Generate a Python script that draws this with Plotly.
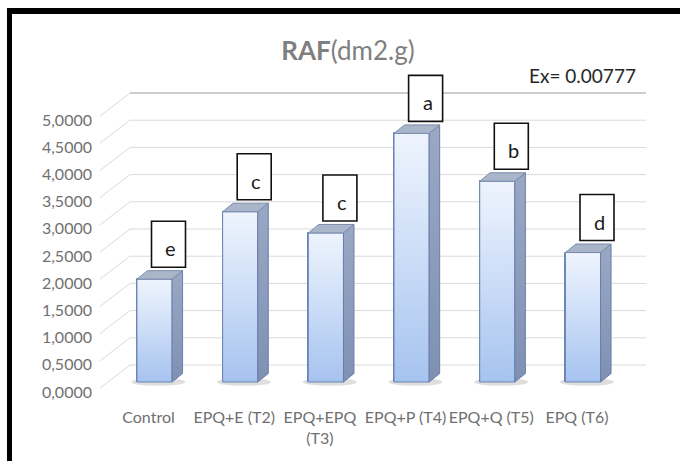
import plotly.graph_objects as go

# ---- data -------------------------------------------------------------
categories = ["Control", "EPQ+E (T2)", "EPQ+EPQ (T3)", "EPQ+P (T4)", "EPQ+Q (T5)", "EPQ (T6)"]
tick_labels = ["Control", "EPQ+E (T2)", "EPQ+EPQ<br>(T3)", "EPQ+P (T4)", "EPQ+Q (T5)", "EPQ (T6)"]
raf_values = [1.89, 3.13, 2.74, 4.57, 3.69, 2.38]
group_letters = ["e", "c", "c", "a", "b", "d"]
y_ticks = [0, 0.5, 1.0, 1.5, 2.0, 2.5, 3.0, 3.5, 4.0, 4.5, 5.0]
ex_text = "Ex= 0.00777"

# ---- page geometry ----------------------------------------------------
W, H = 680, 461
ML, MR, MT, MB = 95, 30, 60, 63
PW, PH = W - ML - MR, H - MT - MB
PX_PER_CAT = 85.7          # horizontal distance between categories
PX_PER_UNIT = 54.4         # vertical pixels per unit of RAF
CAT0_PX = 154.5            # pixel x of the first category
ZERO_PX = 382.0            # pixel y of value 0 on the bar plane

x_lo = (ML - CAT0_PX) / PX_PER_CAT
x_hi = x_lo + PW / PX_PER_CAT
y_lo = (ZERO_PX - (H - MB)) / PX_PER_UNIT
y_hi = y_lo + PH / PX_PER_UNIT

def px_to_paper(px, py):
    return (px - ML) / PW, ((H - MB) - py) / PH

def px_to_cat(px):
    return (px - CAT0_PX) / PX_PER_CAT

# 3-D look (in axis units)
BAR_W = 0.41
DEPTH_X = 10.5 / PX_PER_CAT
DEPTH_Y = 8.5 / PX_PER_UNIT
WALL_FRONT_X = px_to_cat(100)
WALL_BACK_X = px_to_cat(130)
WALL_RIGHT = px_to_cat(646)
BACK_DY = 17.0 / PX_PER_UNIT
FRONT_DY = -6.0 / PX_PER_UNIT

FONT = "Lato"
GRID = "#dadada"

fig = go.Figure()

# bars (front faces)
xs = list(range(len(categories)))
fig.add_trace(go.Bar(
    x=xs, y=raf_values, width=BAR_W,
    marker=dict(color="#c9daf4", line=dict(color="#6a84b3", width=1)),
    hoverinfo="skip", showlegend=False,
))

for i, v in enumerate(raf_values):
    l, r = i - BAR_W / 2, i + BAR_W / 2
    # shaded front face
    fig.add_trace(go.Scatter(
        x=[l, r, r, l, l], y=[0, 0, v, v, 0], mode="lines", fill="toself",
        fillgradient=dict(type="vertical",
                          colorscale=[[0, "#a6c3ef"], [0.55, "#cfdff8"], [1, "#eef4fd"]]),
        line=dict(color="#6a84b3", width=1), hoverinfo="skip", showlegend=False,
    ))
    # side face
    fig.add_trace(go.Scatter(
        x=[r, r + DEPTH_X, r + DEPTH_X, r, r],
        y=[0, DEPTH_Y, v + DEPTH_Y, v, 0], mode="lines", fill="toself",
        fillgradient=dict(type="vertical",
                          colorscale=[[0, "#7f90b4"], [1, "#9aa8c4"]]),
        line=dict(color="#6a7fa8", width=1), hoverinfo="skip", showlegend=False,
    ))
    # top face
    fig.add_trace(go.Scatter(
        x=[l, r, r + DEPTH_X, l + DEPTH_X, l],
        y=[v, v, v + DEPTH_Y, v + DEPTH_Y, v], mode="lines", fill="toself",
        fillcolor="#a9b5c9", line=dict(color="#7a8cae", width=1),
        hoverinfo="skip", showlegend=False,
    ))

shapes = []
# back wall and side wall grid
for t in y_ticks:
    top = t == y_ticks[-1]
    shapes.append(dict(type="line", xref="x", yref="y", layer="below",
                       x0=WALL_BACK_X, x1=WALL_RIGHT,
                       y0=t + BACK_DY, y1=t + BACK_DY,
                       line=dict(color="#cdcdcd" if top else GRID, width=2 if top else 1)))
    shapes.append(dict(type="line", xref="x", yref="y", layer="below",
                       x0=WALL_FRONT_X, x1=WALL_BACK_X,
                       y0=t + FRONT_DY, y1=t + BACK_DY,
                       line=dict(color=GRID, width=1)))

# soft shadows at the foot of the bars
for i in xs:
    shapes.append(dict(type="circle", xref="x", yref="y", layer="below",
                       x0=i - 0.27, x1=i + 0.36, y0=-0.07, y1=0.07,
                       fillcolor="rgba(90,90,90,0.2)", line=dict(width=0)))

# letter boxes above each bar
for i, v in enumerate(raf_values):
    shapes.append(dict(type="rect", xref="x", yref="y", layer="above",
                       xsizemode="pixel", ysizemode="pixel",
                       xanchor=i, yanchor=v, x0=-3, x1=31, y0=12, y1=58,
                       fillcolor="white", line=dict(color="#111111", width=1.6)))

# black frame (top and left edges)
fx0, fy0 = px_to_paper(7, 8)
fx1, fy1 = px_to_paper(W, 14)
shapes.append(dict(type="rect", xref="paper", yref="paper", x0=fx0, x1=fx1,
                   y0=fy1, y1=fy0, fillcolor="black", line=dict(width=0)))
lx0, ly0 = px_to_paper(7, 8)
lx1, ly1 = px_to_paper(12, H)
shapes.append(dict(type="rect", xref="paper", yref="paper", x0=lx0, x1=lx1,
                   y0=ly1, y1=ly0, fillcolor="black", line=dict(width=0)))

annotations = []
for i, (v, g) in enumerate(zip(raf_values, group_letters)):
    annotations.append(dict(x=i, y=v, xref="x", yref="y", text=g, showarrow=False,
                            xshift=16, yshift=31, xanchor="center", yanchor="middle",
                            font=dict(family=FONT, size=20, color="#1a1a1a")))

ex_x, ex_y = px_to_paper(582, 75)
annotations.append(dict(x=ex_x, y=ex_y, xref="paper", yref="paper", text=ex_text,
                        showarrow=False, xanchor="center", yanchor="middle",
                        font=dict(family=FONT, size=19, color="#262626")))

fig.update_layout(
    width=W, height=H,
    margin=dict(l=ML, r=MR, t=MT, b=MB, pad=0),
    paper_bgcolor="white", plot_bgcolor="white",
    separators=",.",
    bargap=0,
    showlegend=False,
    title=dict(text="<b>RAF</b>(dm2.g)", x=348 / W, y=1 - 51 / H,
               xref="container", yref="container", xanchor="center", yanchor="middle",
               font=dict(family=FONT, size=26, color="#7f7f7f")),
    xaxis=dict(range=[x_lo, x_hi], tickvals=xs, ticktext=tick_labels,
               showgrid=False, zeroline=False, showline=False, ticks="",
               ticklabelshift=-6, ticklabelstandoff=8,
               tickfont=dict(family=FONT, size=16, color="#707070")),
    yaxis=dict(range=[y_lo, y_hi], tickvals=y_ticks, tickformat=".4f",
               showgrid=False, zeroline=False, showline=False, ticks="",
               ticklabelshift=10, ticklabelstandoff=2,
               tickfont=dict(family=FONT, size=16, color="#707070")),
    shapes=shapes,
    annotations=annotations,
)

page_style = ("document.documentElement.style.overflow='hidden';"
              "document.body.style.overflow='hidden';"
              "document.body.style.margin='0';")
fig.write_html("out.html", post_script=page_style,
               config={"displayModeBar": False})
